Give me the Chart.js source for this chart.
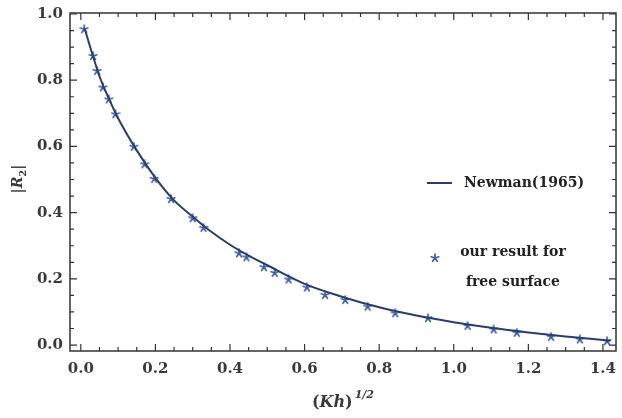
<!DOCTYPE html>
<html>
<head>
<meta charset="utf-8">
<script src="https://cdn.jsdelivr.net/npm/chart.js@4/dist/chart.umd.min.js"></script>
<style>
  body { margin: 0; background: #fff; }
  canvas { display: block; }
</style>
</head>
<body>
<canvas id="chart" width="622" height="418"></canvas>
<script>
// Newman(1965) curve
const newmanX = [0.01, 0.03, 0.05, 0.075, 0.1, 0.15, 0.2, 0.25, 0.3, 0.35, 0.4, 0.45, 0.5, 0.6, 0.7, 0.8, 0.9, 1.0, 1.1, 1.2, 1.3, 1.42];
const newmanY = [0.957, 0.882, 0.812, 0.745, 0.685, 0.588, 0.505, 0.437, 0.388, 0.342, 0.303, 0.270, 0.241, 0.185, 0.146, 0.114, 0.089, 0.069, 0.052, 0.038, 0.026, 0.013];

// our result for free surface (stars)
const oursX = [0.009, 0.033, 0.044, 0.059, 0.075, 0.093, 0.142, 0.171, 0.197, 0.242, 0.300, 0.329, 0.424, 0.444, 0.491, 0.520, 0.557, 0.606, 0.655, 0.709, 0.769, 0.843, 0.931, 1.037, 1.107, 1.169, 1.261, 1.338, 1.411];
const oursY = [0.954, 0.873, 0.828, 0.778, 0.742, 0.697, 0.599, 0.546, 0.502, 0.441, 0.383, 0.354, 0.277, 0.265, 0.235, 0.218, 0.198, 0.174, 0.151, 0.136, 0.116, 0.096, 0.081, 0.058, 0.047, 0.037, 0.025, 0.017, 0.012];

const xTicks = [0, 0.2, 0.4, 0.6, 0.8, 1.0, 1.2, 1.4];
const yTicks = [0, 0.2, 0.4, 0.6, 0.8, 1.0];

const FONT = '"DejaVu Serif", serif';
const LINE_COLOR = '#2c3d6b';
const STAR_COLOR = '#3d5f9e';

// 5-armed asterisk for the markers
function makeStar(size, color) {
  const c = document.createElement('canvas');
  c.width = size; c.height = size;
  const g = c.getContext('2d');
  const r = size / 2 - 1;
  g.strokeStyle = color;
  g.lineWidth = 1.7;
  g.lineCap = 'round';
  g.beginPath();
  for (let i = 0; i < 5; i++) {
    const a = -Math.PI / 2 + i * 2 * Math.PI / 5;
    g.moveTo(size / 2, size / 2);
    g.lineTo(size / 2 + r * Math.cos(a), size / 2 + r * Math.sin(a));
  }
  g.stroke();
  return c;
}
const star = makeStar(10, STAR_COLOR);

// frame, inward ticks on all sides, axis titles, legend
const framePlugin = {
  id: 'frame',
  afterDraw(chart) {
    const { ctx, chartArea: a, scales: { x, y } } = chart;
    ctx.save();
    ctx.strokeStyle = '#333';
    ctx.lineWidth = 1.5;
    ctx.strokeRect(a.left, a.top, a.right - a.left, a.bottom - a.top);

    ctx.lineWidth = 1.2;
    ctx.beginPath();
    for (let v = 0; v <= 1.4001; v += 0.05) {
      const px = x.getPixelForValue(v);
      const major = Math.abs(v / 0.2 - Math.round(v / 0.2)) < 1e-6;
      const len = major ? 7 : 4;
      ctx.moveTo(px, a.bottom); ctx.lineTo(px, a.bottom - len);
      ctx.moveTo(px, a.top); ctx.lineTo(px, a.top + len);
    }
    for (let v = 0; v <= 1.0001; v += 0.05) {
      const py = y.getPixelForValue(v);
      const major = Math.abs(v / 0.2 - Math.round(v / 0.2)) < 1e-6;
      const len = major ? 7 : 4;
      ctx.moveTo(a.left, py); ctx.lineTo(a.left + len, py);
      ctx.moveTo(a.right, py); ctx.lineTo(a.right - len, py);
    }
    ctx.stroke();

    // x title: (Kh)^1/2
    ctx.fillStyle = '#3a3a3a';
    ctx.textBaseline = 'alphabetic';
    ctx.textAlign = 'left';
    const cx = (a.left + a.right) / 2;
    const parts = [
      ['(', 'bold 16px ' + FONT, 0],
      ['Kh', 'italic bold 16px ' + FONT, 0],
      [')', 'bold 16px ' + FONT, 0],
      ['1/2', 'italic bold 11px ' + FONT, -9]
    ];
    let w = 0;
    parts.forEach(p => { ctx.font = p[1]; w += ctx.measureText(p[0]).width + (p[2] ? 2 : 0); });
    let tx = cx - w / 2;
    parts.forEach(p => {
      ctx.font = p[1];
      if (p[2]) tx += 2;
      ctx.fillText(p[0], tx, 407 + p[2]);
      tx += ctx.measureText(p[0]).width;
    });

    // y title: |R2|
    ctx.save();
    ctx.translate(22, 179);
    ctx.rotate(-Math.PI / 2);
    const yp = [
      ['|', 'bold 14px ' + FONT, 0],
      ['R', 'italic bold 14px ' + FONT, 0],
      ['2', 'bold 10px ' + FONT, 4],
      ['|', 'bold 14px ' + FONT, 0]
    ];
    w = 0;
    yp.forEach(p => { ctx.font = p[1]; w += ctx.measureText(p[0]).width; });
    tx = -w / 2;
    yp.forEach(p => {
      ctx.font = p[1];
      ctx.fillText(p[0], tx, p[2]);
      tx += ctx.measureText(p[0]).width;
    });
    ctx.restore();

    // legend
    const lx = a.right - 189, ly1 = a.top + 170;
    ctx.strokeStyle = LINE_COLOR;
    ctx.lineWidth = 2;
    ctx.beginPath();
    ctx.moveTo(lx, ly1); ctx.lineTo(lx + 25, ly1);
    ctx.stroke();
    ctx.fillStyle = '#222';
    ctx.font = 'bold 14px ' + FONT;
    ctx.textBaseline = 'middle';
    ctx.textAlign = 'left';
    ctx.fillText('Newman(1965)', lx + 37, ly1);

    const ly2 = a.top + 245;
    ctx.drawImage(star, lx + 3, ly2 - 5);
    ctx.textAlign = 'center';
    ctx.fillText('our result for', lx + 86, ly2 - 6);
    ctx.fillText('free surface', lx + 86, ly2 + 24);
    ctx.restore();
  }
};

new Chart(document.getElementById('chart'), {
  type: 'line',
  data: {
    datasets: [
      {
        label: 'Newman(1965)',
        data: newmanX.map((v, i) => ({ x: v, y: newmanY[i] })),
        borderColor: LINE_COLOR,
        borderWidth: 2,
        pointRadius: 0,
        cubicInterpolationMode: 'monotone',
        fill: false
      },
      {
        label: 'our result for free surface',
        data: oursX.map((v, i) => ({ x: v, y: oursY[i] })),
        showLine: false,
        pointStyle: star,
        pointRadius: 5
      }
    ]
  },
  options: {
    responsive: false,
    animation: false,
    layout: { padding: { top: 13, right: 3, left: 0, bottom: 0 } },
    plugins: { legend: { display: false }, tooltip: { enabled: false } },
    scales: {
      x: {
        type: 'linear',
        min: -0.029,
        max: 1.435,
        grid: { display: false, drawTicks: false },
        border: { display: false },
        afterBuildTicks: s => { s.ticks = xTicks.map(v => ({ value: v })); },
        afterFit: s => { s.height = 67; s.paddingLeft = 0; s.paddingRight = 0; },
        ticks: {
          padding: 9,
          color: '#3a3a3a',
          font: { family: FONT, size: 15, weight: 'bold' },
          callback: v => v.toFixed(1)
        }
      },
      y: {
        type: 'linear',
        min: -0.018,
        max: 1.003,
        grid: { display: false, drawTicks: false },
        border: { display: false },
        afterBuildTicks: s => { s.ticks = yTicks.map(v => ({ value: v })); },
        afterFit: s => { s.width = 70; s.paddingTop = 0; s.paddingBottom = 0; },
        ticks: {
          padding: 7,
          color: '#3a3a3a',
          font: { family: FONT, size: 15, weight: 'bold' },
          callback: v => v.toFixed(1)
        }
      }
    }
  },
  plugins: [framePlugin]
});
</script>
</body>
</html>
